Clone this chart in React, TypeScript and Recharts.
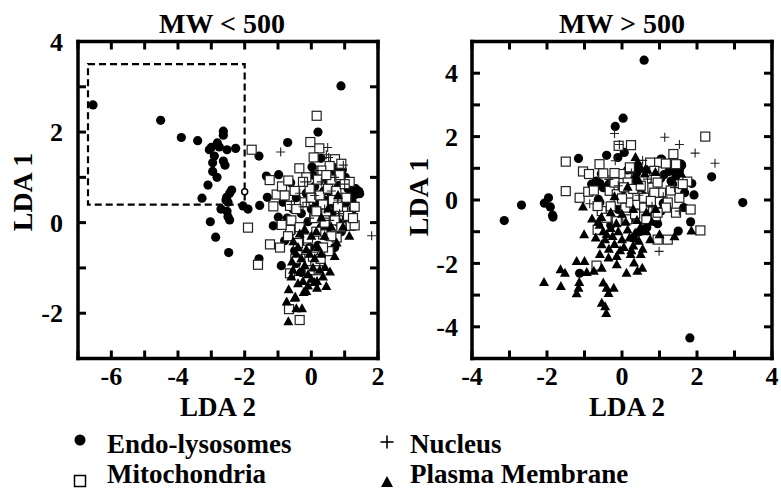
import React from 'react';
import { ScatterChart, Scatter, XAxis, YAxis, ReferenceArea, ReferenceDot } from 'recharts';

type P = [number, number];

// ---------- MW < 500 panel ----------
const lowXTicks = [-7, -6, -5, -4, -3, -2, -1, 0, 1, 2];
const lowYTicks = [-3, -2, -1, 0, 1, 2, 3, 4];

const lowEndo: P[] = [
  [-6.55, 2.6], [-4.52, 2.26], [-3.9, 1.88], [-3.41, 1.81], [-2.64, 2.02], [-2.64, 1.93], [-3.06, 1.61], [-3.0, 1.66],
  [-2.82, 1.76], [-2.76, 1.67], [-2.53, 1.61], [-2.27, 1.64], [-2.91, 1.47], [-2.96, 1.32], [-2.64, 1.36], [-2.59, 1.27],
  [-2.96, 1.13], [-2.83, 1.0], [-3.1, 0.83], [-3.28, 0.54], [-2.39, 0.72], [-2.45, 0.65], [-2.54, 0.56], [-2.56, 0.5],
  [-2.5, 0.45], [-2.71, 0.3], [-2.53, 0.25], [-2.5, 0.13], [-2.45, 0.06], [-3.03, 0.02], [-2.87, -0.32], [-2.48, -0.66],
  [-2.05, 0.37], [-1.9, 0.3], [0.89, 3.02], [0.2, 2.0], [-0.71, 1.77], [-1.57, 1.47], [-1.35, 1.03], [-0.98, 1.06],
  [-1.55, 0.38], [-1.32, 0.56], [-1.14, -0.07], [-0.99, 0.12], [-1.57, -0.8], [-0.9, -0.95], [1.32, 0.62], [1.45, 0.64],
  [1.33, 0.75], [1.43, 0.69], [1.2, 0.72], [0.29, 1.42], [0.02, 1.23], [0.93, 1.16],
  [-0.45, 0.55], [-0.62, 0.88], [0.1, 0.8], [0.4, 0.5], [0.62, 0.2], [0.82, 0.0], [1.0, 0.4], [1.1, 0.75], [1.22, 0.48],
  [0.3, -0.1], [-0.2, -0.3], [-0.5, -0.62], [-0.72, 0.1], [0.0, 0.3], [0.5, 0.92], [0.72, 1.12], [-0.3, 0.2], [0.2, -0.5],
  [0.9, -0.2], [-0.8, -0.4], [1.02, 1.0], [0.6, 0.62], [-0.1, 0.02], [0.35, 1.02], [0.15, 0.45], [-0.45, -0.9],
  [-0.3, -1.1], [0.82, 0.82], [1.25, 0.3], [0.45, -0.3], [-0.85, 0.45], [-0.55, 0.3], [0.05, 1.05], [0.55, 0.4],
  [-0.15, 0.65], [0.7, -0.55], [0.25, 0.15], [-0.6, -0.2], [0.38, 0.7], [0.75, 0.35], [-0.05, -0.55], [0.5, -0.1],
  [1.05, 0.1], [-0.35, -0.45], [0.15, -0.85], [0.65, 1.3],
];

const lowMito: P[] = [
  [-1.79, 1.61], [0.16, 2.36], [-0.03, 1.78], [0.24, 1.64], [0.71, 1.4], [0.07, 1.44], [-1.25, 0.94], [-1.04, 0.62],
  [-0.88, 0.8], [-0.69, 0.93], [-0.36, 1.2], [-1.14, 0.36], [-0.64, 0.37], [-1.9, -0.11], [-1.24, -0.48], [-0.94, -0.55],
  [-1.6, -0.93], [-0.35, -2.15], [-0.67, -1.91], [-0.64, -1.12], [0.52, -0.63], [1.18, -0.07], [1.3, -0.06], [0.76, -0.33],
  [-0.64, -0.16], [-0.89, -0.05], [-0.33, -0.72], [0.12, -0.95], [0.2, -1.05], [0.35, -0.26], [0.9, 1.3], [0.55, 1.25],
  [-0.15, 1.0], [0.3, 1.15], [0.85, 1.05], [1.15, 0.9], [1.3, 0.35], [1.05, 0.55], [0.95, 0.25], [0.7, 0.05], [0.4, 0.0],
  [0.1, 0.1], [-0.2, 0.45], [-0.45, 0.3], [-0.6, 0.05], [-0.35, -0.1], [-0.1, -0.35], [0.15, -0.2], [0.45, 0.25],
  [0.65, 0.5], [0.25, 0.6], [-0.05, 0.75], [0.5, 0.75], [0.8, 0.35], [1.1, 0.15], [-0.25, 0.9], [0.0, 0.55], [-0.5, 0.7],
  [0.2, 0.95], [0.6, 0.95], [0.35, 0.4], [-0.7, -0.3], [-0.15, -0.6], [0.05, -0.75], [0.35, -0.55], [0.6, -0.3],
  [0.9, -0.1], [1.25, 0.1], [-0.4, -0.45], [0.15, 0.25], [0.75, 0.7], [-0.8, 0.6], [0.45, 1.05], [1.0, 0.85],
  [0.28, -0.8], [-0.05, -1.05], [-0.48, -0.8],
];

const lowNucleus: P[] = [
  [-0.92, 1.56], [0.49, 1.66], [0.52, 1.44], [0.96, 1.27], [1.81, -0.29], [-0.2, 0.9], [-0.35, 0.65], [-0.15, 0.45],
  [0.3, 0.9], [0.6, 0.7], [0.7, 1.0], [0.1, 0.6], [0.4, 0.3], [-0.05, 0.1], [0.8, 0.5], [0.55, 0.05], [-0.25, 0.35],
  [1.0, 0.85], [0.2, 1.15], [-0.6, 0.4], [0.45, 1.5], [0.85, 0.2],
];

const lowPlasma: P[] = [
  [1.14, -0.3], [0.76, -0.45], [-0.69, -2.19], [-0.74, -1.75], [-0.28, -1.9], [-0.68, -1.48], [-0.5, -1.67], [-0.15, -1.52],
  [0.17, -1.45], [0.45, -1.41], [0.56, -1.09], [0.41, -0.99], [0.17, -1.3], [-0.48, -1.65], [0.09, -1.32], [-0.23, -1.54],
  [-0.58, -0.87], [-0.54, -0.42], [-0.4, -0.55], [-0.45, -0.7], [-0.3, -0.8], [-0.2, -0.95], [-0.35, -1.1], [-0.1, -1.15],
  [0.05, -1.0], [-0.05, -0.7], [0.1, -0.8], [0.3, -0.7], [0.25, -1.05], [-0.6, -1.2], [-0.4, -1.35], [-0.25, -1.3],
  [0.0, -1.25], [-0.15, -0.6], [0.2, -0.55], [0.4, -0.3], [0.6, -0.1], [0.3, 0.1], [0.0, -0.3], [-0.35, -0.25],
  [0.5, 0.3], [0.8, 0.6], [-0.2, -0.15], [0.15, -0.2], [-0.55, -1.05], [-0.45, -1.9], [0.7, -0.75], [0.35, -1.2],
  [-0.1, -1.4], [0.95, -0.1],
];

// ---------- MW > 500 panel ----------
const highXTicks = [-4, -3, -2, -1, 0, 1, 2, 3, 4];
const highYTicks = [-5, -4, -3, -2, -1, 0, 1, 2, 3, 4, 5];

const highEndo: P[] = [
  [0.59, 4.41], [0.03, 2.58], [-0.18, 2.32], [0.06, 1.5], [-0.11, 1.34], [-0.41, 1.41], [-1.16, 1.31], [1.06, 1.28],
  [1.59, 1.09], [2.39, 0.73], [1.86, 0.52], [1.92, 0.16], [3.22, -0.08], [1.65, -0.24], [1.83, -0.69], [1.5, -0.98],
  [1.81, -4.35], [-3.14, -0.65], [-2.68, -0.16], [-2.07, -0.1], [-1.96, 0.07], [-1.91, -0.22], [-1.85, -0.48],
  [-1.84, -0.54], [-1.13, -2.31], [0.48, 0.34], [-0.68, 0.6], [-0.81, 0.5], [-0.59, 0.52], [-0.5, 0.39], [-0.63, 0.02],
  [-0.59, -0.08], [-0.27, -0.19], [0.05, -0.14], [-0.55, 0.83], [0.42, 1.1], [0.46, 0.98], [0.39, 0.85], [0.33, 0.65],
  [1.03, 0.68], [1.12, 0.8], [1.25, 0.9], [1.32, 0.95], [0.57, -0.22], [0.75, -0.55], [0.66, -0.87], [0.48, -0.99],
  [0.3, -1.2], [0.2, -0.6], [-0.1, -0.3], [0.0, 0.3], [-0.35, 0.5], [0.9, 0.2], [1.1, -0.1], [-0.3, -0.8], [0.15, 0.95],
  [0.8, 0.45], [1.35, 0.5], [0.95, -0.75], [0.55, 0.15], [1.58, 1.13], [1.53, 0.92], [1.44, 0.76], [1.31, 0.6],
  [1.04, 1.29], [1.04, -0.35], [1.67, 0.23],
];

const highMito: P[] = [
  [-1.5, 1.21], [-1.5, 0.28], [-1.04, 0.9], [-0.88, 0.82], [-1.13, 0.07], [-0.9, 0.26], [-0.6, 1.13], [-0.09, 1.71],
  [0.24, 1.73], [-0.04, 0.82], [0.21, 1.03], [0.15, 0.55], [0.75, 1.18], [0.99, 1.18], [-0.33, 0.29], [-0.14, 0.18],
  [-0.09, -0.03], [0.09, -0.24], [0.23, -0.08], [0.41, -0.14], [0.59, -0.24], [0.77, -0.08], [0.9, -0.51], [0.14, -0.61],
  [-0.14, -0.67], [-0.54, -0.35], [-0.41, -0.56], [0.9, 0.66], [0.81, 0.39], [1.04, 0.23], [0.41, 0.13], [0.59, 0.07],
  [2.22, 2.0], [1.37, 1.45], [1.17, 1.15], [1.44, 1.13], [1.74, 0.58], [1.62, 0.5], [1.53, 0.07], [1.22, -0.08],
  [1.17, -0.24], [1.83, -0.3], [1.44, -0.4], [2.09, -0.96], [0.95, -1.25], [1.22, -1.25], [0.86, 0.92], [0.95, 0.55],
  [0.86, 0.23], [0.77, -0.03], [0.95, -0.4], [-0.65, -0.19], [-0.65, -0.94], [-0.68, -2.07], [-0.5, 0.84], [-0.2, 0.55],
  [0.3, 0.35], [0.0, 0.05], [0.5, 0.45], [-0.3, -0.2], [0.35, -0.45], [0.65, -0.6], [-0.2, 0.85], [0.05, 0.4],
  [1.3, 0.3], [-0.75, 0.3],
];

const highNucleus: P[] = [
  [1.14, 1.98], [1.53, 1.75], [1.95, 1.48], [2.48, 1.16], [-0.2, 2.1], [-0.07, 1.75], [-0.18, 1.24], [-0.86, -0.12],
  [0.99, -1.62], [0.68, 0.66], [1.4, 0.39], [1.53, -0.35], [-0.35, 0.65], [0.45, 0.15], [0.25, 0.85], [-0.1, 0.45],
  [0.55, 1.25], [1.1, 0.1], [0.8, -0.2],
];

const highPlasma: P[] = [
  [-2.08, -2.6], [-1.63, -2.73], [-1.64, -2.2], [-1.52, -2.31], [-1.21, -1.94], [-1.0, -1.94], [-0.94, -2.29],
  [-1.14, -2.6], [-1.16, -2.78], [-1.21, -2.96], [-1.01, -1.1], [-0.75, -2.25], [-0.54, -2.15], [-0.5, -2.62],
  [-0.41, -2.78], [-0.22, -2.78], [-0.36, -2.95], [-0.54, -3.26], [-0.45, -3.37], [-0.42, -3.58], [-0.59, -1.72],
  [-0.36, -1.83], [-0.14, -2.04], [0.12, -2.31], [0.41, -2.25], [0.54, -2.15], [0.32, -1.99], [0.5, -1.72],
  [0.23, -1.72], [-0.14, -1.78], [-0.54, -1.41], [-0.41, -1.09], [0.36, 1.34], [0.63, 0.98], [0.61, 0.82], [0.68, 0.94],
  [0.89, 0.87], [-1.04, -0.22], [-0.63, -0.69], [1.85, -0.98], [1.4, -1.16], [1.58, 0.82],
  [-0.6, -0.8], [-0.5, -1.0], [-0.45, -1.25], [-0.3, -0.9], [-0.25, -1.15], [-0.2, -1.4], [-0.1, -1.0], [0.0, -1.25],
  [0.05, -1.5], [0.15, -0.95], [0.2, -1.2], [0.3, -1.45], [0.35, -1.05], [0.45, -1.3], [0.55, -1.55], [0.5, -0.85],
  [-0.35, -1.55], [-0.05, -1.6], [0.25, -1.6], [-0.15, -0.75], [0.1, -0.7], [0.4, -0.65], [0.65, -1.0], [0.75, -1.25],
  [-0.7, -1.2], [-0.55, -0.55], [-0.3, -0.4], [0.0, -0.45], [0.3, -0.3], [0.65, -0.4], [0.9, -0.3], [0.15, 0.4],
  [0.45, 0.6], [-0.2, 0.1], [0.8, -0.7], [1.0, -1.1], [-0.8, -0.6],
];

const legendItems = ['Endo-lysosomes', 'Mitochondria', 'Nucleus', 'Plasma Membrane'];
const panelTitles = ['MW < 500', 'MW > 500'];
const xLabel = 'LDA 2';
const yLabel = 'LDA 1';

const FONT = '"Liberation Serif", "Times New Roman", serif';

const toPts = (a: P[]) => a.map(([x, y]) => ({ x, y }));

const CircleShape = (p: any) => <circle cx={p.cx} cy={p.cy} r={4.6} fill="#000" />;
const SquareShape = (p: any) => (
  <rect x={p.cx - 4.5} y={p.cy - 4.5} width={9} height={9} fill="#fff" stroke="#222" strokeWidth={1.2} />
);
const PlusShape = (p: any) => (
  <g stroke="#222" strokeWidth={1.1}>
    <line x1={p.cx - 4.5} x2={p.cx + 4.5} y1={p.cy} y2={p.cy} />
    <line x1={p.cx} x2={p.cx} y1={p.cy - 4.5} y2={p.cy + 4.5} />
  </g>
);
const TriShape = (p: any) => (
  <polygon points={`${p.cx},${p.cy - 5.5} ${p.cx - 5},${p.cy + 3.5} ${p.cx + 5},${p.cy + 3.5}`} fill="#000" />
);
const NoShape = () => <g />;

const tickStyle = { fill: '#000', fontSize: 26, fontWeight: 'bold', fontFamily: FONT };
const axisLineStyle = { stroke: '#000', strokeWidth: 3.5, strokeLinecap: 'square' as const };
const tickLineStyle = { stroke: '#000', strokeWidth: 3 };

const evenOnly = (v: number) => (Math.abs(v % 2) === 0 ? String(v) : '');
const blank = () => '';

interface PanelProps {
  width: number;
  plotLeft: number;
  plotRight: number;
  xDomain: [number, number];
  yDomain: [number, number];
  xTicks: number[];
  yTicks: number[];
  yTickMargin: number;
  endo: P[];
  mito: P[];
  nucleus: P[];
  plasma: P[];
  children?: React.ReactNode;
}

function Panel(props: PanelProps) {
  const { width, plotLeft, plotRight, xDomain, yDomain, xTicks, yTicks, yTickMargin } = props;
  return (
    <ScatterChart
      width={width}
      height={420}
      margin={{ top: 40.5, right: width - plotRight - 1, bottom: 0, left: 0 }}
    >
      <XAxis
        xAxisId="b"
        type="number"
        dataKey="x"
        orientation="bottom"
        domain={xDomain}
        ticks={xTicks}
        interval={0}
        allowDataOverflow
        height={61.5}
        tickSize={-8}
        tickMargin={16}
        tickFormatter={evenOnly}
        tick={tickStyle}
        axisLine={axisLineStyle}
        tickLine={tickLineStyle}
      />
      <XAxis
        xAxisId="t"
        type="number"
        dataKey="x"
        orientation="top"
        domain={xDomain}
        ticks={xTicks}
        interval={0}
        allowDataOverflow
        height={1}
        tickSize={-8}
        tickFormatter={blank}
        axisLine={axisLineStyle}
        tickLine={tickLineStyle}
      />
      <YAxis
        yAxisId="l"
        type="number"
        dataKey="y"
        orientation="left"
        domain={yDomain}
        ticks={yTicks}
        interval={0}
        allowDataOverflow
        width={plotLeft}
        tickSize={-8}
        tickMargin={yTickMargin}
        tickFormatter={evenOnly}
        tick={tickStyle}
        axisLine={axisLineStyle}
        tickLine={tickLineStyle}
      />
      <YAxis
        yAxisId="r"
        type="number"
        dataKey="y"
        orientation="right"
        domain={yDomain}
        ticks={yTicks}
        interval={0}
        allowDataOverflow
        width={1}
        tickSize={-8}
        tickFormatter={blank}
        axisLine={axisLineStyle}
        tickLine={tickLineStyle}
      />
      {props.children}
      <Scatter xAxisId="t" yAxisId="r" data={toPts(props.endo)} shape={NoShape} isAnimationActive={false} legendType="none" />
      <Scatter xAxisId="b" yAxisId="l" data={toPts(props.endo)} shape={CircleShape} isAnimationActive={false} />
      <Scatter xAxisId="b" yAxisId="l" data={toPts(props.mito)} shape={SquareShape} isAnimationActive={false} />
      <Scatter xAxisId="b" yAxisId="l" data={toPts(props.nucleus)} shape={PlusShape} isAnimationActive={false} />
      <Scatter xAxisId="b" yAxisId="l" data={toPts(props.plasma)} shape={TriShape} isAnimationActive={false} />
    </ScatterChart>
  );
}

const textStyle = { fontFamily: FONT, fontWeight: 'bold' as const, fill: '#000' };

export default function App() {
  return (
    <div style={{ position: 'absolute', left: 0, top: 0, width: 781, height: 489, background: '#fff', overflow: 'hidden' }}>
      <div style={{ position: 'absolute', left: 0, top: 0 }}>
        <Panel
          width={390}
          plotLeft={78}
          plotRight={378}
          xDomain={[-7, 2]}
          yDomain={[-3, 4]}
          xTicks={lowXTicks}
          yTicks={lowYTicks}
          yTickMargin={23}
          endo={lowEndo}
          mito={lowMito}
          nucleus={lowNucleus}
          plasma={lowPlasma}
        >
          <ReferenceArea
            xAxisId="b"
            yAxisId="l"
            x1={-6.7}
            x2={-2}
            y1={0.4}
            y2={3.5}
            fill="none"
            fillOpacity={0}
            stroke="#000"
            strokeWidth={2.2}
            strokeDasharray="7 4"
            ifOverflow="visible"
          />
          <ReferenceDot xAxisId="b" yAxisId="l" x={-2} y={0.68} r={3} fill="#fff" stroke="#000" strokeWidth={1.5} />
        </Panel>
      </div>
      <div style={{ position: 'absolute', left: 390, top: 0 }}>
        <Panel
          width={391}
          plotLeft={82}
          plotRight={382}
          xDomain={[-4, 4]}
          yDomain={[-5, 5]}
          xTicks={highXTicks}
          yTicks={highYTicks}
          yTickMargin={22}
          endo={highEndo}
          mito={highMito}
          nucleus={highNucleus}
          plasma={highPlasma}
        />
      </div>
      <svg width={781} height={489} style={{ position: 'absolute', left: 0, top: 0, pointerEvents: 'none' }}>
        <text x={222} y={33} textAnchor="middle" fontSize={28} {...textStyle}>{panelTitles[0]}</text>
        <text x={622} y={33} textAnchor="middle" fontSize={28} {...textStyle}>{panelTitles[1]}</text>
        <text x={32} y={192} textAnchor="middle" fontSize={28} transform="rotate(-90 32 192)" {...textStyle}>{yLabel}</text>
        <text x={428} y={197} textAnchor="middle" fontSize={28} transform="rotate(-90 428 197)" {...textStyle}>{yLabel}</text>
        <text x={218} y={416} textAnchor="middle" fontSize={27} {...textStyle}>{xLabel}</text>
        <text x={627} y={416} textAnchor="middle" fontSize={27} {...textStyle}>{xLabel}</text>

        <circle cx={80} cy={440} r={5.5} fill="#000" />
        <text x={107} y={453} fontSize={27} {...textStyle}>{legendItems[0]}</text>
        <rect x={74.5} y={475.5} width={11} height={11} fill="#fff" stroke="#000" strokeWidth={1.5} />
        <text x={107} y={483} fontSize={27} {...textStyle}>{legendItems[1]}</text>
        <g stroke="#000" strokeWidth={1.6}>
          <line x1={380.5} x2={393.5} y1={442} y2={442} />
          <line x1={387} x2={387} y1={435.5} y2={448.5} />
        </g>
        <text x={410} y={453} fontSize={27} {...textStyle}>{legendItems[2]}</text>
        <polygon points="387,476 381,487 393,487" fill="#000" />
        <text x={410} y={483} fontSize={27} {...textStyle}>{legendItems[3]}</text>
      </svg>
    </div>
  );
}
